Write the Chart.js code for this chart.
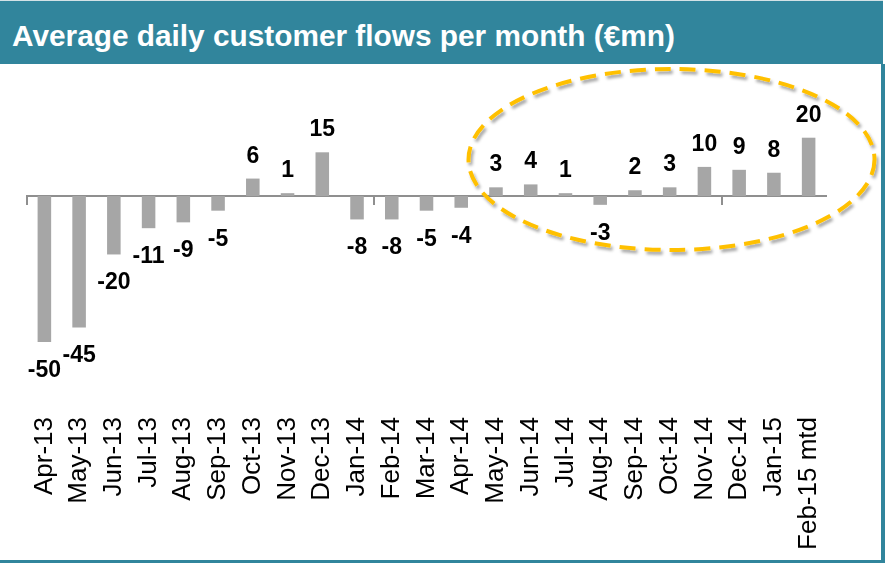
<!DOCTYPE html>
<html>
<head>
<meta charset="utf-8">
<script src="https://cdn.jsdelivr.net/npm/chart.js@4.4.1/dist/chart.umd.min.js"></script>
<style>
  html, body { margin: 0; padding: 0; background: #fff; }
  #page { position: relative; width: 885px; height: 563px; overflow: hidden; background: #fff; }
  #titleBar {
    position: absolute; left: 0; top: 0; width: 883px; height: 63px;
    background: #31859c; border-top: 1px solid #d3e2e6;
  }
  #titleText {
    position: absolute; left: 12px; top: 20px;
    font: bold 29.8px "Liberation Sans", Arial, sans-serif; line-height: 30px;
    color: #fff; white-space: nowrap;
  }
  #rightEdge { position: absolute; left: 881px; top: 64px; width: 4px; height: 499px; background: #31859c; }
  #bottomEdge { position: absolute; left: 0; top: 560px; width: 885px; height: 3px; background: #31859c; }
  #chartBox { position: absolute; left: 0; top: 64px; width: 881px; height: 496px; }
  #ring { position: absolute; left: 0; top: 0; pointer-events: none; }
</style>
</head>
<body>
<div id="page">
  <div id="titleBar"><span id="titleText">Average daily customer flows per month (€mn)</span></div>
  <div id="chartBox"><canvas id="flowChart" width="881" height="496"></canvas></div>
  <div id="rightEdge"></div>
  <div id="bottomEdge"></div>
  <svg id="ring" width="885" height="563">
    <defs>
      <filter id="shade" x="-10%" y="-10%" width="120%" height="130%">
        <feDropShadow dx="2" dy="3" stdDeviation="1.8" flood-color="#000" flood-opacity="0.35"/>
      </filter>
    </defs>
    <ellipse cx="671.5" cy="159.5" rx="203" ry="90.5" fill="none" stroke="#ffc000"
             stroke-width="4" stroke-dasharray="16 9" filter="url(#shade)"/>
  </svg>
</div>
<script>
const months = ['Apr-13', 'May-13', 'Jun-13', 'Jul-13', 'Aug-13', 'Sep-13', 'Oct-13', 'Nov-13', 'Dec-13',
  'Jan-14', 'Feb-14', 'Mar-14', 'Apr-14', 'May-14', 'Jun-14', 'Jul-14', 'Aug-14', 'Sep-14', 'Oct-14',
  'Nov-14', 'Dec-14', 'Jan-15', 'Feb-15 mtd'];
const flows = [-50, -45, -20, -11, -9, -5, 6, 1, 15, -8, -8, -5, -4, 3, 4, 1, -3, 2, 3, 10, 9, 8, 20];

const axisGrey = '#8f8f8f';

// value labels above positive bars, below negative ones
const barLabels = {
  id: 'barLabels',
  afterDatasetsDraw(chart) {
    const ctx = chart.ctx;
    const meta = chart.getDatasetMeta(0);
    ctx.save();
    ctx.font = 'bold 23px "Liberation Sans", Arial, sans-serif';
    ctx.fillStyle = '#000';
    ctx.textAlign = 'center';
    ctx.textBaseline = 'alphabetic';
    meta.data.forEach((bar, i) => {
      const v = flows[i];
      const y = v >= 0 ? bar.y - 16 : bar.y + 35;
      ctx.fillText(String(v), bar.x, y);
    });
    ctx.restore();
  }
};

new Chart(document.getElementById('flowChart'), {
  type: 'bar',
  data: {
    labels: months,
    datasets: [{
      data: flows,
      backgroundColor: '#a6a6a6',
      barPercentage: 0.39,
      categoryPercentage: 1
    }]
  },
  options: {
    responsive: false,
    animation: false,
    devicePixelRatio: 1,
    layout: { padding: { left: 27, right: 55, top: 20, bottom: 10 } },
    plugins: {
      legend: { display: false },
      tooltip: { enabled: false }
    },
    scales: {
      x: {
        position: 'bottom',
        grid: { display: false, drawTicks: false },
        border: { display: false },
        ticks: {
          autoSkip: false,
          minRotation: 90,
          maxRotation: 90,
          padding: 9,
          color: '#000',
          font: { family: '"Liberation Sans", Arial, sans-serif', size: 26 }
        },
        afterFit: scale => { scale.height = 142; }
      },
      // axis line drawn through zero, with a tick every ten months
      x0: {
        type: 'category',
        axis: 'x',
        position: { y: 0 },
        grid: {
          drawOnChartArea: false,
          tickLength: 8,
          lineWidth: 2,
          color: c => (c.index % 10 === 0 ? axisGrey : 'rgba(0,0,0,0)')
        },
        border: { display: true, color: axisGrey, width: 2 },
        ticks: { display: false }
      },
      y: {
        display: false,
        min: -72.6,
        max: 38.4
      }
    }
  },
  plugins: [barLabels]
});
</script>
</body>
</html>
